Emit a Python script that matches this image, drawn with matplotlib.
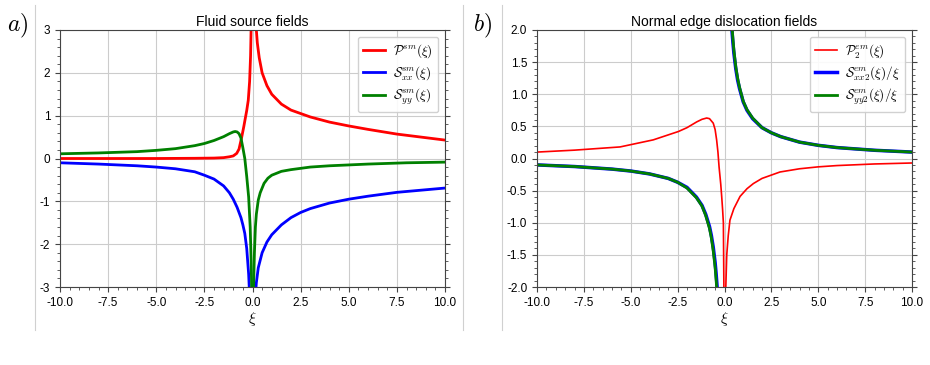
import matplotlib.pyplot as plt
from matplotlib.ticker import AutoMinorLocator
from matplotlib.lines import Line2D

plt.rcParams['font.family'] = ['Liberation Sans', 'DejaVu Sans']
plt.rcParams['mathtext.fontset'] = 'cm'

# ---------------- data ----------------
# a) fluid source fields
xi_p_sm = [-10, -7.5, -5, -3, -2, -1.5, -1.2, -1.0, -0.82, -0.7, -0.56, -0.45, -0.39, -0.3,
           -0.22, -0.15, -0.1, -0.06, 0.05, 0.15, 0.2, 0.25, 0.35, 0.5, 0.75, 1.0, 1.5, 2.0,
           2.5, 3.0, 4.0, 5.0, 6.0, 7.5, 10]
p_sm = [0.0, 0.0, 0.0, 0.005, 0.01, 0.02, 0.04, 0.06, 0.12, 0.22, 0.5, 0.75, 0.9, 1.12,
        1.36, 1.8, 2.4, 3.3, 3.8, 3.3, 3.0, 2.7, 2.35, 2.0, 1.7, 1.5, 1.27, 1.13,
        1.05, 0.97, 0.85, 0.76, 0.68, 0.57, 0.43]

xi_sxx_neg = [-10, -8, -6, -5, -4, -3, -2.5, -2, -1.5, -1.2, -1.0, -0.8, -0.6, -0.5, -0.4,
              -0.3, -0.2, -0.16]
sxx_neg = [-0.10, -0.13, -0.17, -0.20, -0.24, -0.31, -0.39, -0.48, -0.64, -0.80, -0.95,
           -1.14, -1.38, -1.55, -1.75, -2.1, -2.7, -3.1]
xi_sxx_pos = [0.15, 0.2, 0.3, 0.5, 0.75, 1.0, 1.5, 2, 2.5, 3, 4, 5, 6, 7.5, 10]
sxx_pos = [-3.2, -2.9, -2.55, -2.2, -1.95, -1.78, -1.55, -1.38, -1.26, -1.17, -1.04,
           -0.95, -0.88, -0.79, -0.69]

xi_syy_neg = [-10, -8, -6, -5, -4, -3, -2.5, -2, -1.5, -1.2, -1.0, -0.9, -0.8, -0.7, -0.6,
              -0.5, -0.4, -0.3, -0.2, -0.12, -0.07, -0.04]
syy_neg = [0.11, 0.13, 0.16, 0.19, 0.23, 0.30, 0.35, 0.42, 0.51, 0.58, 0.62, 0.63, 0.62,
           0.58, 0.48, 0.25, 0.0, -0.42, -0.9, -1.6, -2.4, -3.1]
xi_syy_pos = [0.05, 0.1, 0.15, 0.2, 0.3, 0.4, 0.6, 0.8, 1.0, 1.5, 2, 2.5, 3, 4, 5, 6, 8, 10]
syy_pos = [-3.1, -2.2, -1.6, -1.3, -0.97, -0.8, -0.58, -0.46, -0.39, -0.3, -0.26, -0.23,
           -0.2, -0.17, -0.15, -0.13, -0.1, -0.085]

# b) normal edge dislocation fields
xi_p2 = [-10, -8, -5.57, -3.8, -2.46, -2, -1.48, -1.2, -0.95, -0.8, -0.6, -0.5, -0.42,
         -0.35, -0.29, -0.2, -0.15, -0.1, -0.06, -0.03]
p2 = [0.10, 0.13, 0.18, 0.29, 0.42, 0.48, 0.57, 0.61, 0.63, 0.62, 0.55, 0.45, 0.29,
      0.1, -0.13, -0.4, -0.59, -0.8, -1.0, -2.1]
xi_p2_pos = [0.06, 0.12, 0.2, 0.29, 0.5, 0.83, 1.2, 1.54, 2.0, 2.96, 4, 5, 6, 8, 10]
p2_pos = [-2.1, -1.5, -1.2, -0.96, -0.78, -0.59, -0.47, -0.39, -0.31, -0.21, -0.16,
          -0.13, -0.11, -0.085, -0.07]

xi_s_neg = [-10, -8, -6, -5, -4, -3, -2.5, -2, -1.5, -1.2, -1.0, -0.8, -0.7, -0.6, -0.5,
            -0.45, -0.4, -0.37]
sxx2_neg = [-0.10, -0.125, -0.165, -0.195, -0.24, -0.31, -0.37, -0.45, -0.60, -0.73,
            -0.87, -1.06, -1.2, -1.38, -1.62, -1.78, -1.97, -2.1]
syy2_neg = [-0.10, -0.125, -0.165, -0.195, -0.24, -0.31, -0.37, -0.46, -0.61, -0.74,
            -0.89, -1.09, -1.24, -1.44, -1.70, -1.88, -2.08, -2.2]
xi_s_pos = [0.37, 0.4, 0.45, 0.5, 0.6, 0.7, 0.8, 1.0, 1.2, 1.5, 2, 2.5, 3, 4, 5, 6, 8, 10]
sxx2_pos = [2.1, 1.98, 1.8, 1.64, 1.40, 1.22, 1.09, 0.88, 0.75, 0.62, 0.48, 0.40, 0.34,
            0.255, 0.205, 0.17, 0.128, 0.10]
syy2_pos = [2.2, 2.06, 1.86, 1.69, 1.43, 1.25, 1.11, 0.89, 0.76, 0.63, 0.48, 0.40, 0.34,
            0.255, 0.205, 0.17, 0.128, 0.10]

xticks = [-10, -7.5, -5, -2.5, 0, 2.5, 5, 7.5, 10]
yticks_a = [-3, -2, -1, 0, 1, 2, 3]
yticks_b = [-2.0, -1.5, -1.0, -0.5, 0.0, 0.5, 1.0, 1.5, 2.0]

# ---------------- figure ----------------
fig = plt.figure(figsize=(9.3, 3.65), dpi=100)

# cell borders of the source document
for xp in [35, 463, 502]:
    fig.add_artist(Line2D([xp / 930, xp / 930], [1 - 5 / 365, 1 - 330 / 365],
                          color='#d0d0d0', linewidth=0.8))

fig.text(7 / 930, 1 - 26 / 365, r'$a)$', fontsize=17, ha='left', va='center')
fig.text(473 / 930, 1 - 26 / 365, r'$b)$', fontsize=17, ha='left', va='center')


def style(ax, yticks, title):
    ax.set_xlim(-10, 10)
    ax.set_ylim(yticks[0], yticks[-1])
    ax.set_xticks(xticks)
    ax.set_xticklabels(['%.1f' % t for t in xticks])
    ax.set_yticks(yticks)
    ax.xaxis.set_minor_locator(AutoMinorLocator(5))
    ax.yaxis.set_minor_locator(AutoMinorLocator(5))
    ax.tick_params(which='both', labelsize=8.5, right=True, color='#444444')
    ax.tick_params(which='major', length=3.5)
    ax.tick_params(which='minor', length=2)
    ax.grid(color='#cccccc', linewidth=0.8)
    ax.set_title(title, fontsize=10, pad=3)
    ax.set_xlabel(r'$\xi$', fontsize=11, labelpad=1)
    for s in ax.spines.values():
        s.set_color('#444444')
        s.set_linewidth(0.8)


leg_kw = dict(loc='upper right', fontsize=9.5, handlelength=1.7, handletextpad=0.6,
              borderpad=0.4, labelspacing=0.35, framealpha=0.9)

ax1 = fig.add_axes([60 / 930, 78 / 365, 385 / 930, 257 / 365])
ax1.plot(xi_p_sm, p_sm, color='red', lw=2, label=r'$\mathcal{P}^{sm}(\xi)$')
ax1.plot(xi_sxx_neg, sxx_neg, color='blue', lw=2, label=r'$\mathcal{S}^{sm}_{xx}(\xi)$')
ax1.plot(xi_sxx_pos, sxx_pos, color='blue', lw=2)
ax1.plot(xi_syy_neg, syy_neg, color='green', lw=2, label=r'$\mathcal{S}^{sm}_{yy}(\xi)$')
ax1.plot(xi_syy_pos, syy_pos, color='green', lw=2)
style(ax1, yticks_a, 'Fluid source fields')
ax1.set_yticklabels([str(t) for t in yticks_a])
ax1.legend(**leg_kw)

ax2 = fig.add_axes([537 / 930, 78 / 365, 375 / 930, 257 / 365])
ax2.plot(xi_p2, p2, color='red', lw=1.2, label=r'$\mathcal{P}^{em}_{2}(\xi)$')
ax2.plot(xi_p2_pos, p2_pos, color='red', lw=1.2)
ax2.plot(xi_s_neg, sxx2_neg, color='blue', lw=2.5, label=r'$\mathcal{S}^{em}_{xx2}(\xi)/\xi$')
ax2.plot(xi_s_pos, sxx2_pos, color='blue', lw=2.5)
ax2.plot(xi_s_neg, syy2_neg, color='green', lw=2, label=r'$\mathcal{S}^{em}_{yy2}(\xi)/\xi$')
ax2.plot(xi_s_pos, syy2_pos, color='green', lw=2)
style(ax2, yticks_b, 'Normal edge dislocation fields')
ax2.set_yticklabels(['%.1f' % t for t in yticks_b])
ax2.legend(**leg_kw)

fig.savefig('out.png', dpi=100)
